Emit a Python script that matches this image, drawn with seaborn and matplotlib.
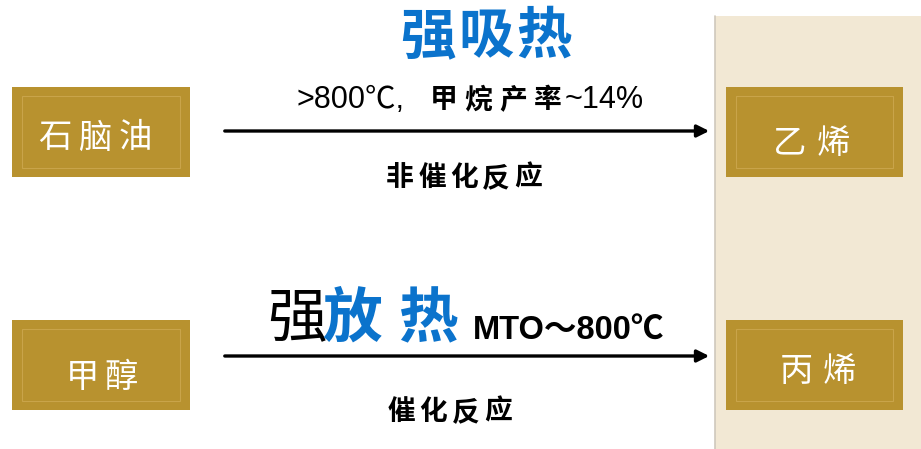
import matplotlib
matplotlib.use("Agg")
import matplotlib.pyplot as plt
import seaborn as sns
from matplotlib.patches import Rectangle

sns.set_theme(style="white")
plt.rcParams['font.family'] = ['Noto Sans CJK SC', 'DejaVu Sans']
LATIN = ['Liberation Sans', 'Noto Sans CJK SC']

# node labels
feeds = ['石脑油', '甲醇']
products = ['乙烯', '丙烯']
# route annotations
heat_top = '强吸热'
cond_top = ['>800℃,', '甲烷产率', '~14%']
kind_top = '非催化反应'
heat_bot = ['强', '放', '热']
cond_bot = 'MTO～800℃'
kind_bot = '催化反应'

gold = '#b8922f'
blue = '#0b73cc'


def spaced(ax, x0, y, s, pitch, **kw):
    # put each character at a fixed pitch, starting at x0 (first centre)
    for i, ch in enumerate(s):
        ax.text(x0 + i * pitch, y, ch, ha='center', va='center', **kw)


fig = plt.figure(figsize=(9.21, 4.49), dpi=100)
ax = fig.add_axes([0, 0, 1, 1])
ax.set_xlim(0, 921)
ax.set_ylim(449, 0)
ax.axis('off')

# product panel
ax.add_patch(Rectangle((715, 16), 210, 440, facecolor='#f2e8d4', edgecolor='none'))
ax.plot([715, 715], [16, 449], color='#cfc8bc', lw=1.2)

# boxes
for yc in [132, 365]:
    for x0, w in [(12, 178), (726, 177)]:
        ax.add_patch(Rectangle((x0, yc - 45), w, 90, facecolor=gold, edgecolor='none'))
        ax.add_patch(Rectangle((x0 + 10, yc - 36), w - 20, 72, facecolor='none',
                               edgecolor='#c9a44a', lw=0.8))

lab = dict(color='white', fontsize=24)
spaced(ax, 55, 138, feeds[0], 40, **lab)
spaced(ax, 82, 377, feeds[1], 39, **lab)
spaced(ax, 790, 143, products[0], 43, **lab)
spaced(ax, 796, 372, products[1], 43, **lab)

# arrows
for yc in [131, 356]:
    ax.annotate('', xy=(712, yc), xytext=(222, yc),
                arrowprops=dict(arrowstyle='-|>', color='black', lw=2.4,
                                mutation_scale=18))

# top route text
spaced(ax, 428, 37, heat_top, 58, color=blue, fontsize=40, fontweight='bold')
ax.text(296, 100, cond_top[0], color='black', fontsize=22, family=LATIN,
        ha='left', va='center')
spaced(ax, 444, 100, cond_top[1], 34.5, color='black', fontsize=20, fontweight='bold')
ax.text(565, 100, cond_top[2], color='black', fontsize=22, family=LATIN,
        ha='left', va='center')
spaced(ax, 400, 178, kind_top, 32, color='black', fontsize=20, fontweight='bold')

# bottom route text
ax.text(297, 320, heat_bot[0], color='black', fontsize=43, ha='center', va='center')
ax.text(352, 320, heat_bot[1], color=blue, fontsize=43, fontweight='bold',
        ha='center', va='center')
ax.text(428, 320, heat_bot[2], color=blue, fontsize=43, fontweight='bold',
        ha='center', va='center')
ax.text(473, 330, cond_bot, color='black', fontsize=23.5, fontweight='bold',
        family=LATIN, ha='left', va='center')
spaced(ax, 401, 412, kind_bot, 32.5, color='black', fontsize=20, fontweight='bold')

fig.savefig('out.png', dpi=100)
